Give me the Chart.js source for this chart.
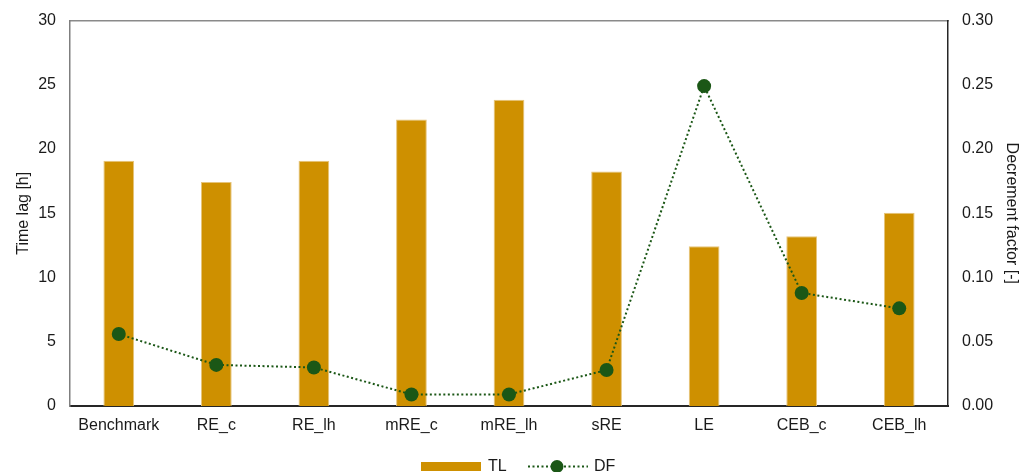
<!DOCTYPE html>
<html>
<head>
<meta charset="utf-8">
<script src="https://cdn.jsdelivr.net/npm/chart.js@4.4.1/dist/chart.umd.min.js"></script>
<style>
html,body{margin:0;padding:0;background:#fff;overflow:hidden;}
#wrap{position:relative;width:1035px;height:472px;overflow:hidden;}
#c{position:absolute;left:0;top:-3px;}
#legend{position:absolute;left:0;top:455px;width:1035px;height:22px;font-family:"Liberation Sans",Arial,sans-serif;font-size:16px;color:#1a1a1a;}
.item{position:absolute;top:0;height:22px;line-height:22px;}
</style>
</head>
<body>
<div id="wrap">
<canvas id="c" width="1035" height="472"></canvas>
<div id="legend">
  <div class="item" style="left:421px;"><span style="display:inline-block;width:60px;height:9px;background:#CE9000;vertical-align:middle;margin-top:-1px;"></span></div>
  <div class="item" style="left:488px;">TL</div>
  <div class="item" style="left:527px;"><svg width="62" height="22" style="vertical-align:top"><line x1="1" y1="11.5" x2="61" y2="11.5" stroke="#1B5716" stroke-width="2" stroke-dasharray="2,2.5"/><circle cx="30" cy="11.5" r="6.5" fill="#1B5716"/></svg></div>
  <div class="item" style="left:594px;">DF</div>
</div>
</div>
<script>
const categories = ["Benchmark","RE_c","RE_lh","mRE_c","mRE_lh","sRE","LE","CEB_c","CEB_lh"];
const timeLag = [19.1, 17.43, 19.1, 22.31, 23.84, 18.26, 12.44, 13.21, 15.05];
const decrementFactor = [0.056, 0.032, 0.030, 0.009, 0.009, 0.028, 0.249, 0.088, 0.076];
const leftTicks = [0,5,10,15,20,25,30];
const rightTicks = [0,0.05,0.10,0.15,0.20,0.25,0.30];

const FONT = {family:'"Liberation Sans", Arial, sans-serif', size:16};
const TXT = '#1a1a1a';

new Chart(document.getElementById('c'), {
  data: {
    labels: categories,
    datasets: [
      {
        type:'line', label:'DF', data: decrementFactor, yAxisID:'y1',
        borderColor:'#1B5716', backgroundColor:'#1B5716', borderWidth:2,
        borderDash:[2,2.5], pointRadius:7, pointHoverRadius:7,
        pointBackgroundColor:'#1B5716', pointBorderColor:'#1B5716', pointBorderWidth:0,
        tension:0, order:0
      },
      {
        type:'bar', label:'TL', data: timeLag, yAxisID:'y',
        backgroundColor:'#CE9000', borderColor:'#E6C47A', borderWidth:1,
        barPercentage:0.315, categoryPercentage:1.0, order:1
      }
    ]
  },
  options: {
    responsive:false, animation:false,
    devicePixelRatio:1,
    layout:{padding:{left:0,right:0,top:9,bottom:0}},
    plugins:{legend:{display:false}, tooltip:{enabled:false}},
    scales:{
      x:{
        position:'bottom',
        grid:{display:false, drawTicks:false},
        border:{display:true, color:'#262626', width:2},
        ticks:{font:FONT, color:TXT, padding:10, maxRotation:0},
        afterFit:(s)=>{s.height=63;}
      },
      xTop:{
        position:'top', type:'category', labels: categories,
        grid:{display:false, drawTicks:false},
        border:{display:true, color:'#8a8a8a', width:1.5},
        ticks:{display:false},
        afterFit:(s)=>{s.height=0;}
      },
      y:{
        position:'left', min:0, max:30,
        afterBuildTicks:(s)=>{s.ticks = leftTicks.map(v=>({value:v}));},
        grid:{display:false, drawTicks:false},
        border:{display:true, color:'#7f7f7f', width:1.5},
        ticks:{font:FONT, color:TXT, padding:14},
        title:{display:true, text:'Time lag [h]', font:FONT, color:TXT, padding:{top:14,bottom:0}},
        afterFit:(s)=>{s.width=70;}
      },
      y1:{
        position:'right', min:0, max:0.30,
        afterBuildTicks:(s)=>{s.ticks = rightTicks.map(v=>({value:v}));},
        grid:{display:false, drawTicks:false},
        border:{display:true, color:'#262626', width:1.5},
        ticks:{font:FONT, color:TXT, padding:14, callback:(v)=>Number(v).toFixed(2)},
        title:{display:true, text:'Decrement factor [-]', font:FONT, color:TXT, padding:{top:14,bottom:0}},
        afterFit:(s)=>{s.width=87;}
      }
    }
  }
});
</script>
</body>
</html>
